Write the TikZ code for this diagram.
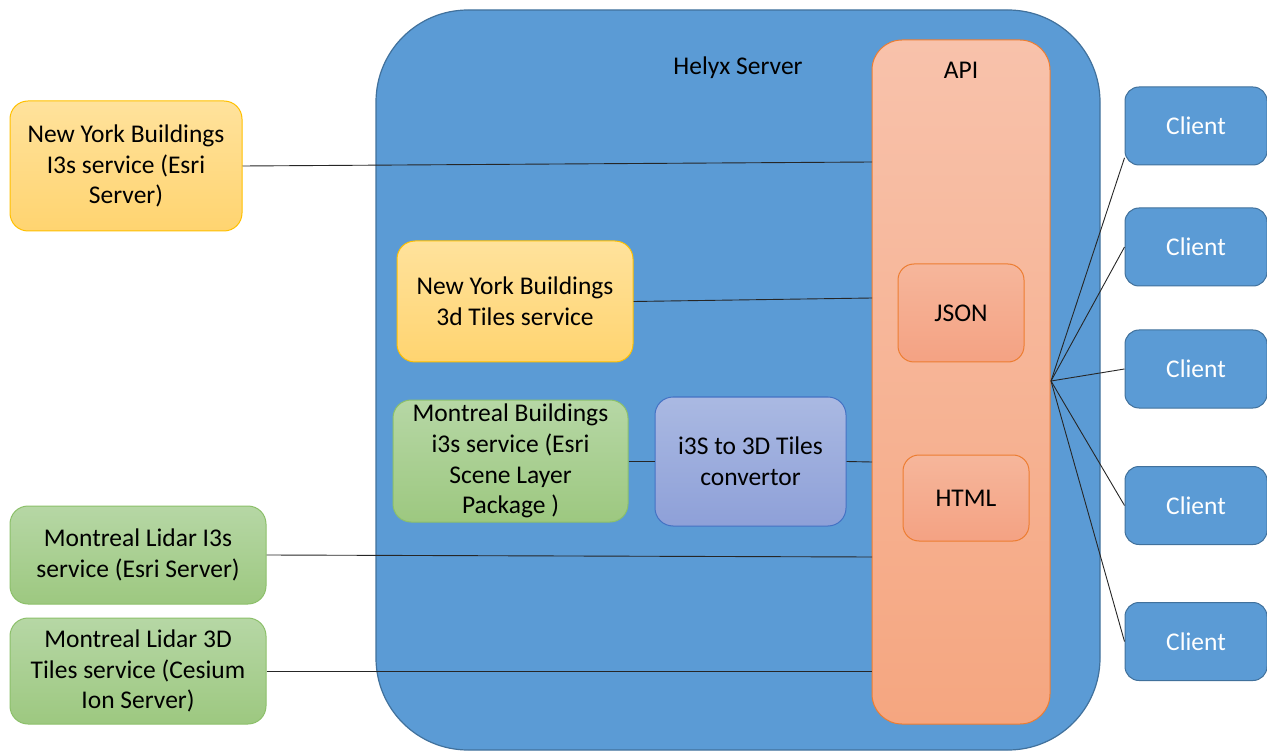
\documentclass[tikz,border=0pt]{standalone}
\usepackage{fontspec}
\setmainfont{Carlito}
\begin{document}
\begin{tikzpicture}[x=1pt,y=-1pt,
  every node/.style={font=\fontsize{25.5}{30.8}\selectfont, align=center, inner sep=0pt},
  box/.style={draw, line width=1pt, rounded corners=18pt, anchor=center},
  yel/.style={box, top color=ylTop, bottom color=ylBot, draw=ylBd},
  grn/.style={box, top color=grTop, bottom color=grBot, draw=grBd},
  cli/.style={box, rounded corners=14pt, fill=srvFill, draw=srvBd, text=white, minimum width=142pt, minimum height=78pt},
  orn/.style={box, rounded corners=16pt, top color=jsTop, bottom color=jsBot, draw=apiBd},
  conn/.style={draw=black!85, line width=0.9pt}
]
\definecolor{srvFill}{HTML}{5B9BD5}
\definecolor{srvBd}{HTML}{41719C}
\definecolor{apiTop}{HTML}{F8C2AB}
\definecolor{apiBot}{HTML}{F5A680}
\definecolor{apiBd}{HTML}{ED7D31}
\definecolor{jsTop}{HTML}{F6B69B}
\definecolor{jsBot}{HTML}{F4A283}
\definecolor{ylTop}{HTML}{FFE29C}
\definecolor{ylBot}{HTML}{FFD470}
\definecolor{ylBd}{HTML}{FFC000}
\definecolor{grTop}{HTML}{B6D7A5}
\definecolor{grBot}{HTML}{9DC880}
\definecolor{grBd}{HTML}{8CC06A}
\definecolor{cvTop}{HTML}{AAB9E2}
\definecolor{cvBot}{HTML}{8EA0D8}
\definecolor{cvBd}{HTML}{4472C4}

\useasboundingbox (0,0) rectangle (1267,751);

% server
\node[draw=srvBd, fill=srvFill, line width=1.2pt, rounded corners=92pt,
      minimum width=724pt, minimum height=740pt] (srv) at (738,380) {};
\node (srvlbl) at (738,68) {Helyx Server};

% API
\node[draw=apiBd, line width=1pt, rounded corners=30pt, top color=apiTop, bottom color=apiBot,
      minimum width=178pt, minimum height=684pt] (api) at (961,382) {};
\node (apilbl) at (961,70) {API};
\node[orn, minimum width=126pt, minimum height=98pt] (json) at (961,313) {JSON};
\node[orn, minimum width=126pt, minimum height=86pt] (html) at (966,498) {HTML};

% sources
\node[yel, minimum width=232pt, minimum height=130pt] (ny1) at (126,166)
  {New York Buildings\\I3s service (Esri\\Server)};
\node[yel, minimum width=236pt, minimum height=121pt] (ny2) at (515,301.5)
  {New York Buildings\\3d Tiles service};
\node[grn, minimum width=235pt, minimum height=122pt] (mb) at (510.5,461)
  {Montreal Buildings\\i3s service (Esri\\Scene Layer\\Package )};
\node[box, top color=cvTop, bottom color=cvBot, draw=cvBd, minimum width=191pt, minimum height=129pt] (cv) at (750.5,461.5)
  {i3S to 3D Tiles\\convertor};
\node[grn, minimum width=256pt, minimum height=98pt] (ml1) at (138,555)
  {Montreal Lidar I3s\\service (Esri Server)};
\node[grn, minimum width=256pt, minimum height=106pt] (ml2) at (138,671)
  {Montreal Lidar 3D\\Tiles service (Cesium\\Ion Server)};

% clients
\node[cli] (c1) at (1196,126) {Client};
\node[cli] (c2) at (1196,247) {Client};
\node[cli] (c3) at (1196,369) {Client};
\node[cli] (c4) at (1196,505.5) {Client};
\node[cli] (c5) at (1196,641.5) {Client};

% connection points on API
\coordinate (a1) at (872,162);
\coordinate (a2) at (872,298);
\coordinate (a3) at (872,462);
\coordinate (a4) at (872,557);
\coordinate (a5) at (872,671);
\coordinate (hub) at (1051,381);

\draw[conn] (ny1.east) -- (a1);
\draw[conn] (ny2.east) -- (a2);
\draw[conn] (mb.east |- cv.west) -- (cv.west);
\draw[conn] (cv.east) -- (a3);
\draw[conn] (ml1.east) -- (a4);
\draw[conn] (ml2.east) -- (a5);

\draw[conn] (hub) -- (c1.204);
\draw[conn] (hub) -- (c2.west);
\draw[conn] (hub) -- (c3.west);
\draw[conn] (hub) -- (c4.west);
\draw[conn] (hub) -- (c5.west);
\end{tikzpicture}
\end{document}
